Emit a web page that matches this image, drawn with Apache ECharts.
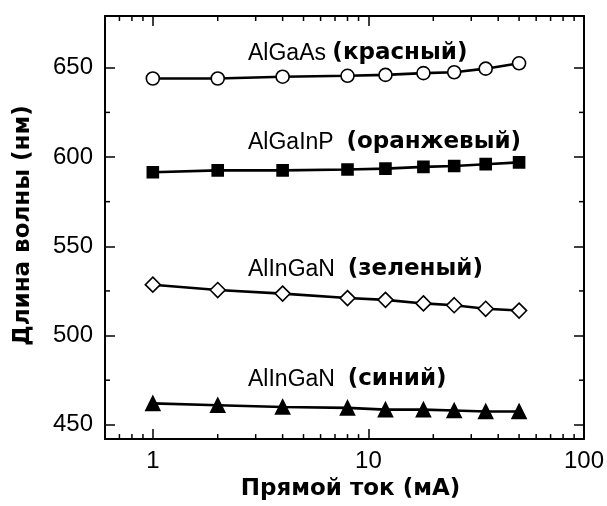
<!DOCTYPE html>
<html><head><meta charset="utf-8">
<script src="https://cdn.jsdelivr.net/npm/echarts@6/dist/echarts.min.js"></script>
<style>html,body{margin:0;padding:0;background:#fff}#c{width:607px;height:506px}</style>
</head><body><div id="c"></div>
<script>
const current = [1, 2, 4, 8, 12, 18, 25, 35, 50];
const algaas = [644, 644, 645, 645.5, 646, 647, 647.5, 649.5, 652.5];
const algainp = [591.5, 592.5, 592.5, 593, 593.5, 594.5, 595, 596, 597];
const green = [528.5, 525.5, 523.5, 521, 520, 518, 517, 515, 514];
const blue = [462, 461, 460, 459.5, 458.5, 458.5, 458, 457.5, 457.5];
const xMajor = [1, 10, 100];
const xMinor = [0.7, 0.8, 0.9, 2, 3, 4, 5, 6, 7, 8, 9, 20, 30, 40, 50, 60, 70, 80, 90];
const yMajor = [450, 500, 550, 600, 650];
const yMinor = [475, 525, 575, 625];
const labels = [
  ['AlGaAs', '(красный)', ' '],
  ['AlGaInP', '(оранжевый)', '  '],
  ['AlInGaN', '(зеленый)', '  '],
  ['AlInGaN', '(синий)', '  ']
];

const FONT = 'Liberation Sans';
const CYR = 'DejaVu Sans';
const pair = a => current.map((x, i) => [x, a[i]]);
const X0 = 0.6, X1 = 100, Y0 = 442, Y1 = 679;

function xAx(pos, showLabel) {
  return {
    type: 'log', logBase: 10, min: X0, max: X1, position: pos,
    axisLine: {show: true, onZero: false, lineStyle: {color: '#000', width: 2}},
    axisTick: {show: true, inside: true, length: 10, customValues: xMajor, lineStyle: {color: '#000', width: 1.5}},
    axisLabel: {show: showLabel, customValues: xMajor, color: '#000', fontFamily: FONT, fontSize: 24, margin: 10},
    splitLine: {show: false}, minorTick: {show: false}
  };
}
function yAx(pos, showLabel) {
  return {
    type: 'value', min: Y0, max: Y1, position: pos,
    axisLine: {show: true, onZero: false, lineStyle: {color: '#000', width: 2}},
    axisTick: {show: true, inside: true, length: 10, customValues: yMajor, lineStyle: {color: '#000', width: 1.5}},
    axisLabel: {show: showLabel, customValues: yMajor, color: '#000', fontFamily: FONT, fontSize: 24, margin: 12},
    splitLine: {show: false}, minorTick: {show: false}
  };
}

const xAxes = [xAx('bottom', true), xAx('top', false)];
Object.assign(xAxes[0], {name: 'Прямой ток (мА)', nameLocation: 'middle', nameGap: 35,
  nameTextStyle: {color: '#000', fontFamily: CYR, fontSize: 23, fontWeight: 'bold', padding: [0, 0, 0, 12]}});
const yAxes = [yAx('left', true), yAx('right', false)];
Object.assign(yAxes[0], {name: 'Длина волны (нм)', nameLocation: 'middle', nameGap: 70, nameRotate: 90,
  nameTextStyle: {color: '#000', fontFamily: CYR, fontSize: 23, fontWeight: 'bold', padding: [0, 0, 0, 4]}});

function ser(name, arr, symbol, size, filled) {
  return {
    name, type: 'line', data: pair(arr), xAxisIndex: 0, yAxisIndex: 0,
    symbol, symbolSize: size, showAllSymbol: true, animation: false, z: 3,
    lineStyle: {color: '#000', width: 2.6},
    itemStyle: {color: filled ? '#000' : '#fff', borderColor: '#000', borderWidth: 1.6}
  };
}

// minor ticks drawn through the axis scales
function minorTicks(values, isX) {
  return {
    type: 'custom', xAxisIndex: 0, yAxisIndex: 0, silent: true, clip: false, z: 4,
    data: values.map(v => isX ? [v, Y0] : [X0, v]),
    renderItem: function (params, api) {
      const v = api.value(isX ? 0 : 1);
      const st = {stroke: '#000', lineWidth: 1.5};
      if (isX) {
        const a = api.coord([v, Y0]), b = api.coord([v, Y1]);
        return {type: 'group', children: [
          {type: 'line', shape: {x1: a[0], y1: a[1], x2: a[0], y2: a[1] - 5}, style: st},
          {type: 'line', shape: {x1: b[0], y1: b[1], x2: b[0], y2: b[1] + 5}, style: st}
        ]};
      }
      const a = api.coord([X0, v]), b = api.coord([X1, v]);
      return {type: 'group', children: [
        {type: 'line', shape: {x1: a[0], y1: a[1], x2: a[0] + 5, y2: a[1]}, style: st},
        {type: 'line', shape: {x1: b[0], y1: b[1], x2: b[0] - 5, y2: b[1]}, style: st}
      ]};
    }
  };
}

const labelY = [56, 145, 272, 382];
const graphics = labels.map((l, i) => ({
  type: 'text', left: 248, top: labelY[i] - 14,
  style: {
    text: '{a|' + l[0] + '}{a|' + l[2] + '}{b|' + l[1] + '}',
    rich: {
      a: {fontFamily: FONT, fontSize: 23, fill: '#000'},
      b: {fontFamily: CYR, fontSize: 23, fontWeight: 'bold', fill: '#000'}
    },
    fill: '#000'
  }
}));

const chart = echarts.init(document.getElementById('c'), null, {renderer: 'canvas'});
chart.setOption({
  backgroundColor: '#fff',
  animation: false,
  grid: {left: 105, right: 21, top: 16, bottom: 63, containLabel: false},
  xAxis: xAxes,
  yAxis: yAxes,
  series: [
    ser('AlGaAs', algaas, 'circle', 13, false),
    ser('AlGaInP', algainp, 'rect', 11, true),
    ser('AlInGaN зел', green, 'diamond', 15, false),
    ser('AlInGaN син', blue, 'triangle', 14, true),
    minorTicks(xMinor, true),
    minorTicks(yMinor, false)
  ],
  graphic: graphics
});
</script></body></html>
